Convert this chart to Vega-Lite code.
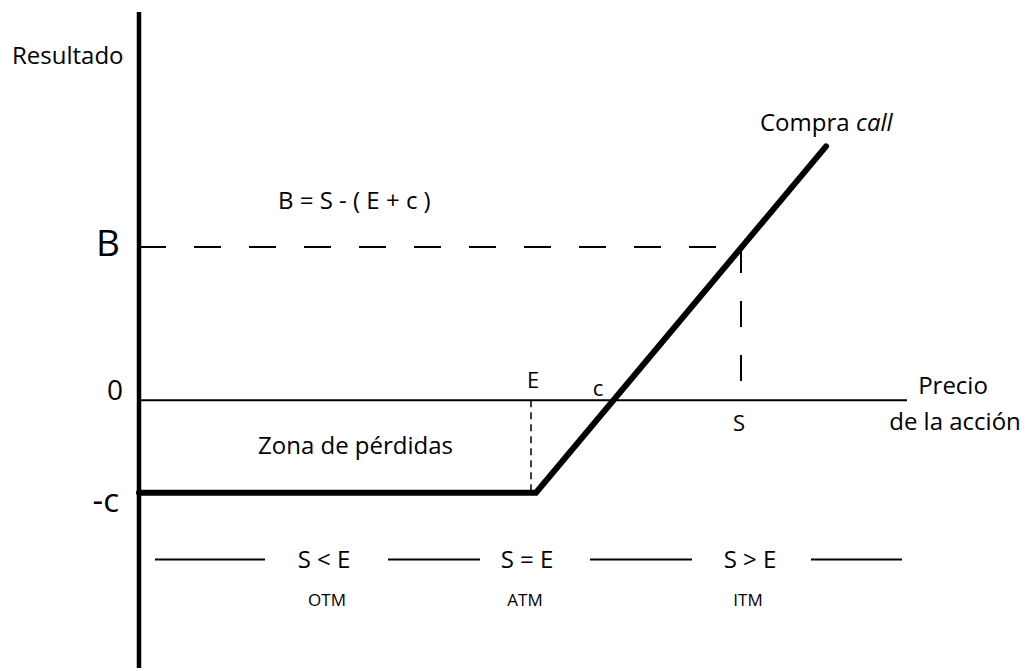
{
  "$schema": "https://vega.github.io/schema/vega-lite/v6.json",
  "width": 1028,
  "height": 671,
  "autosize": {"type": "fit", "contains": "padding"},
  "padding": 0,
  "background": "white",
  "config": {"view": {"stroke": null}, "text": {"font": "Open Sans", "color": "black"}},
  "encoding": {
    "x": {"type": "quantitative", "scale": {"domain": [-34.75, 222.25], "nice": false, "zero": false}, "axis": null},
    "y": {"type": "quantitative", "scale": {"domain": [-67.25, 100.5], "nice": false, "zero": false}, "axis": null}
  },
  "layer": [
    {
      "data": {"values": [{"x": 0, "y": 97.5, "x2": 0, "y2": -67.25}]},
      "mark": {"type": "rule", "strokeWidth": 4.5, "color": "black"},
      "encoding": {"x": {"field": "x"}, "y": {"field": "y"}, "x2": {"field": "x2"}, "y2": {"field": "y2"}}
    },
    {
      "data": {"values": [{"x": 0, "y": 0, "x2": 192, "y2": 0}]},
      "mark": {"type": "rule", "strokeWidth": 2, "color": "black"},
      "encoding": {"x": {"field": "x"}, "y": {"field": "y"}, "x2": {"field": "x2"}, "y2": {"field": "y2"}}
    },
    {
      "data": {"values": [{"x": 0, "y": 38.5, "x2": 150.5, "y2": 38.5}]},
      "mark": {"type": "rule", "strokeWidth": 2, "color": "black", "strokeDash": [27, 28]},
      "encoding": {"x": {"field": "x"}, "y": {"field": "y"}, "x2": {"field": "x2"}, "y2": {"field": "y2"}}
    },
    {
      "data": {"values": [{"x": 150.5, "y": 38.5, "x2": 150.5, "y2": 4.25}]},
      "mark": {"type": "rule", "strokeWidth": 2, "color": "black", "strokeDash": [26, 28]},
      "encoding": {"x": {"field": "x"}, "y": {"field": "y"}, "x2": {"field": "x2"}, "y2": {"field": "y2"}}
    },
    {
      "data": {"values": [{"x": 98, "y": 0, "x2": 98, "y2": -23.25}]},
      "mark": {"type": "rule", "strokeWidth": 1.5, "color": "black", "strokeDash": [7, 5]},
      "encoding": {"x": {"field": "x"}, "y": {"field": "y"}, "x2": {"field": "x2"}, "y2": {"field": "y2"}}
    },
    {
      "data": {"values": [
        {"x": 4, "y": -40, "x2": 31.5, "y2": -40},
        {"x": 62.25, "y": -40, "x2": 85.25, "y2": -40},
        {"x": 112.75, "y": -40, "x2": 138.25, "y2": -40},
        {"x": 168, "y": -40, "x2": 190.75, "y2": -40}
      ]},
      "mark": {"type": "rule", "strokeWidth": 2, "color": "black"},
      "encoding": {"x": {"field": "x"}, "y": {"field": "y"}, "x2": {"field": "x2"}, "y2": {"field": "y2"}}
    },
    {
      "data": {"values": [
        {"order": 1, "x": 0, "y": -23.25},
        {"order": 2, "x": 99.25, "y": -23.25},
        {"order": 3, "x": 171.75, "y": 63.75}
      ]},
      "mark": {"type": "line", "strokeWidth": 6, "color": "black", "strokeCap": "round", "strokeJoin": "miter"},
      "encoding": {"x": {"field": "x"}, "y": {"field": "y"}, "order": {"field": "order"}}
    },
    {
      "data": {"values": [{"label": "B", "x": -4.75, "y": 36.25}]},
      "mark": {"type": "text", "fontSize": 37, "align": "right", "baseline": "alphabetic"},
      "encoding": {"x": {"field": "x"}, "y": {"field": "y"}, "text": {"field": "label"}}
    },
    {
      "data": {"values": [{"label": "0", "x": -4, "y": 0}]},
      "mark": {"type": "text", "fontSize": 28, "align": "right", "baseline": "alphabetic"},
      "encoding": {"x": {"field": "x"}, "y": {"field": "y"}, "text": {"field": "label"}}
    },
    {
      "data": {"values": [{"label": "-c", "x": -5, "y": -28}]},
      "mark": {"type": "text", "fontSize": 33, "align": "right", "baseline": "alphabetic"},
      "encoding": {"x": {"field": "x"}, "y": {"field": "y"}, "text": {"field": "label"}}
    },
    {
      "data": {"values": [
        {"label": "Resultado", "x": -31.75, "y": 84.5},
        {"label": "B = S - ( E + c )", "x": 34.75, "y": 48},
        {"label": "Zona de pérdidas", "x": 29.75, "y": -13.5},
        {"label": "Compra", "x": 155.25, "y": 67.5}
      ]},
      "mark": {"type": "text", "fontSize": 24, "align": "left", "baseline": "alphabetic"},
      "encoding": {"x": {"field": "x"}, "y": {"field": "y"}, "text": {"field": "label"}}
    },
    {
      "data": {"values": [{"label": "call", "x": 179.25, "y": 67.5}]},
      "mark": {"type": "text", "fontSize": 24, "fontStyle": "italic", "align": "left", "baseline": "alphabetic"},
      "encoding": {"x": {"field": "x"}, "y": {"field": "y"}, "text": {"field": "label"}}
    },
    {
      "data": {"values": [
        {"label": "Precio", "x": 203.5, "y": 1.5},
        {"label": "de la acción", "x": 204, "y": -7.5}
      ]},
      "mark": {"type": "text", "fontSize": 24, "align": "center", "baseline": "alphabetic"},
      "encoding": {"x": {"field": "x"}, "y": {"field": "y"}, "text": {"field": "label"}}
    },
    {
      "data": {"values": [
        {"label": "E", "x": 98.5, "y": 3},
        {"label": "c", "x": 114.75, "y": 1},
        {"label": "S", "x": 150, "y": -7.75}
      ]},
      "mark": {"type": "text", "fontSize": 22, "align": "center", "baseline": "alphabetic"},
      "encoding": {"x": {"field": "x"}, "y": {"field": "y"}, "text": {"field": "label"}}
    },
    {
      "data": {"values": [
        {"label": "S < E", "x": 46.25, "y": -42.25},
        {"label": "S = E", "x": 97, "y": -42.25},
        {"label": "S > E", "x": 152.75, "y": -42.25}
      ]},
      "mark": {"type": "text", "fontSize": 24, "align": "center", "baseline": "alphabetic"},
      "encoding": {"x": {"field": "x"}, "y": {"field": "y"}, "text": {"field": "label"}}
    },
    {
      "data": {"values": [
        {"label": "OTM", "x": 47, "y": -51.75},
        {"label": "ATM", "x": 96.5, "y": -51.75},
        {"label": "ITM", "x": 152.25, "y": -51.75}
      ]},
      "mark": {"type": "text", "fontSize": 17, "align": "center", "baseline": "alphabetic"},
      "encoding": {"x": {"field": "x"}, "y": {"field": "y"}, "text": {"field": "label"}}
    }
  ]
}
